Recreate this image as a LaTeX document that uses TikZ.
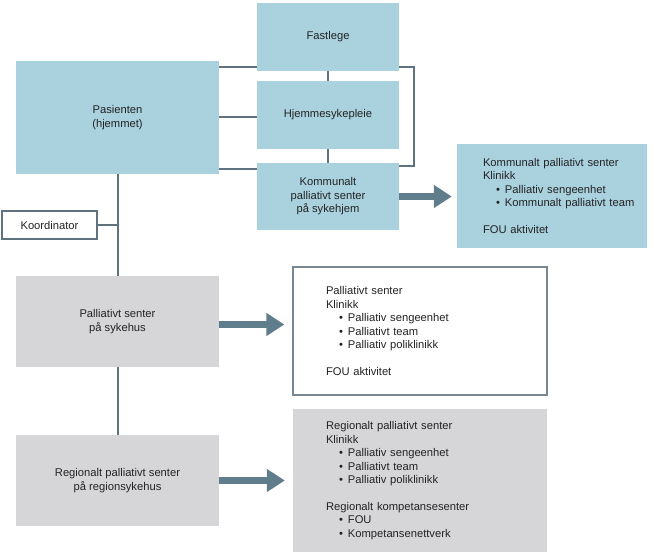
\documentclass[tikz,border=0pt]{standalone}
\usepackage{fontspec}
\setmainfont{Liberation Sans}
\usetikzlibrary{arrows.meta}
\definecolor{boxblue}{RGB}{169,209,222}
\definecolor{boxgray}{RGB}{214,214,216}
\definecolor{linegray}{RGB}{96,114,126}
\definecolor{arrowgray}{RGB}{95,125,138}
\definecolor{textgray}{RGB}{35,35,35}
\newcommand{\stackw}{142pt}
\newcommand{\leftw}{203pt}
\newcommand{\infow}{254pt}
\newcommand{\pkt}[1]{\hspace*{13pt}\textbullet\hspace{5pt}#1}
\tikzset{
  block/.style = {inner sep=0pt, align=center, text=textgray,
    font=\fontsize{11.2}{13.4}\selectfont},
  blueblock/.style = {block, fill=boxblue},
  grayblock/.style = {block, fill=boxgray},
  infoblock/.style = {block, align=left, inner ysep=0pt, inner xsep=33pt,
    text width=\infow-66pt, minimum width=\infow},
  conn/.style = {draw=linegray, line width=2pt},
  fatarrow/.style = {draw=arrowgray, line width=6.5pt,
    -{Triangle[width=22pt,length=18pt]}}
}
\begin{document}
\begin{tikzpicture}[x=1pt,y=-1pt]
  \useasboundingbox (0,0) rectangle (655,556);
  \node[blueblock, minimum width=\leftw, minimum height=113pt] (pas) at (117.5,117.5) {Pasienten\\(hjemmet)};
  \node[blueblock, minimum width=\stackw, minimum height=68pt] (fast) at (328,37) {Fastlege};
  \node[blueblock, minimum width=\stackw, minimum height=68pt] (hjem) at (328,115) {Hjemmesykepleie};
  \node[blueblock, minimum width=\stackw, minimum height=67pt] (kom) at (328,196.5) {Kommunalt\\palliativt senter\\på sykehjem};
  \node[blueblock, align=left, inner xsep=0pt, text width=190pt, minimum height=104pt] (komsenter) at (552,196)
    {\hspace*{26pt}\parbox{164pt}{\raggedright Kommunalt palliativt senter\\Klinikk\\\pkt{Palliativ sengeenhet}\\\pkt{Kommunalt palliativt team}\\[13.4pt]FOU aktivitet}};
  \node[block, draw=linegray, line width=1.3pt, fill=white, minimum width=95pt, minimum height=28pt] (koord) at (49.5,225) {Koordinator};
  \node[grayblock, minimum width=\leftw, minimum height=91pt] (sykehus) at (117.5,321.5) {Palliativt senter\\på sykehus};
  \node[grayblock, minimum width=\leftw, minimum height=91pt] (region) at (117.5,480.5) {Regionalt palliativt senter\\på regionsykehus};
  \node[infoblock, draw=linegray!85, line width=1.3pt, fill=white, minimum height=128pt] (senter) at (420,331)
    {Palliativt senter\\Klinikk\\\pkt{Palliativ sengeenhet}\\\pkt{Palliativt team}\\\pkt{Palliativ poliklinikk}\\[13.4pt]FOU aktivitet};
  \node[infoblock, fill=boxgray, minimum height=143pt] (regsenter) at (420,480.5)
    {Regionalt palliativt senter\\Klinikk\\\pkt{Palliativ sengeenhet}\\\pkt{Palliativt team}\\\pkt{Palliativ poliklinikk}\\[13.4pt]Regionalt kompetansesenter\\\pkt{FOU}\\\pkt{Kompetansenettverk}};
  \draw[conn] ([yshift=4pt]fast.south west) coordinate (f1) -- (pas.east |- f1);
  \draw[conn] (pas.east) -- (hjem.west |- pas.east);
  \draw[conn] ([yshift=-6pt]kom.north west) coordinate (k1) -- (pas.east |- k1);
  \draw[conn] (fast.south) -- (hjem.north);
  \draw[conn] (hjem.south) -- (kom.north);
  \draw[conn] ([yshift=4pt]fast.south east) -- ++(15,0) |- ([yshift=-3pt]kom.north east);
  \draw[conn] (pas.south) -- (sykehus.north);
  \draw[conn] (sykehus.south) -- (region.north);
  \draw[conn] (koord.east) -- (koord.east -| pas.south);
  \draw[fatarrow, shorten >=5pt] (kom.east) -- (kom.east -| komsenter.west);
  \draw[fatarrow, shorten >=8pt] ([yshift=-3pt]sykehus.east) coordinate (s1) -- (s1 -| senter.west);
  \draw[fatarrow, shorten >=8pt] (region.east) -- (region.east -| regsenter.west);
\end{tikzpicture}
\end{document}
